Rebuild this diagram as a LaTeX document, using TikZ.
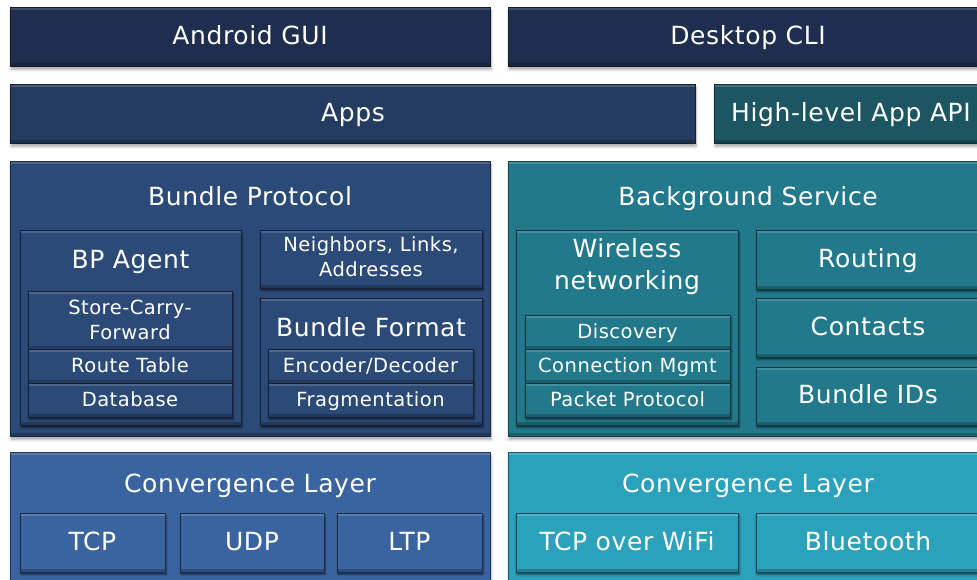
\documentclass[tikz,border=0pt]{standalone}
\usepackage{fontspec}
\setmainfont[LetterSpace=2.5]{DejaVu Sans}
\usetikzlibrary{positioning,shadows.blur}

\definecolor{guiblue}{HTML}{1F2E4E}
\definecolor{appblue}{HTML}{243C60}
\definecolor{apiteal}{HTML}{1C5662}
\definecolor{bpblue}{HTML}{2C4A77}
\definecolor{bgteal}{HTML}{22798B}
\definecolor{clblue}{HTML}{3A64A0}
\definecolor{clcyan}{HTML}{2CA1BB}

\tikzset{
	bevel/.style={path picture={
		\draw[white,opacity=.16,line width=3pt]
			([yshift=-1.5pt]path picture bounding box.north west) -- ([yshift=-1.5pt]path picture bounding box.north east);
		\draw[black,opacity=.22,line width=3pt]
			([yshift=1.5pt]path picture bounding box.south west) -- ([yshift=1.5pt]path picture bounding box.south east);
	}},
	layer/.style={anchor=north west,inner sep=0,outer sep=0,fill=#1,draw=#1!55!black,line width=.8pt,
		bevel,blur shadow={shadow xshift=1pt,shadow yshift=-3.5pt,shadow blur steps=6,shadow blur radius=2.5pt,shadow opacity=35}},
	part/.style={anchor=north west,inner sep=0,outer sep=0,fill=#1,draw=#1!45!black,line width=.8pt,
		bevel,blur shadow={shadow xshift=1pt,shadow yshift=-2.5pt,shadow blur steps=4,shadow blur radius=1.5pt,shadow opacity=55},
		text=white,align=center},
	small/.style={font=\fontsize{19.5}{25}\selectfont},
	big/.style={font=\fontsize{25}{32}\selectfont},
	% one line of text; the smaller text height lifts it a little in its box
	smallline/.style={small,text height=12.5pt,text depth=0pt},
	bigline/.style={big,text height=19pt,text depth=0pt},
	biginner/.style={big,text height=15pt,text depth=0pt},
	title/.style={inner sep=0,text=white,align=center,big},
}

\begin{document}
\begin{tikzpicture}[x=1pt,y=-1pt]
	\useasboundingbox (0,0) rectangle (977,580);

	% user interfaces
	\node[layer=guiblue,minimum width=480pt,minimum height=59pt] (gui) at (10,7) {};
	\node[layer=guiblue,minimum width=480pt,minimum height=59pt] (cli) at (508,7) {};
	\node[title,bigline] (guit) at (250,35.5) {Android GUI};
	\node[title,bigline] (clit) at (748,35.5) {Desktop CLI};

	\node[layer=appblue,minimum width=685pt,minimum height=59pt] (apps) at (10,84) {};
	\node[layer=apiteal,minimum width=274pt,minimum height=59pt] (api) at (714,84) {};
	\node[title,bigline] (appst) at (353,112.5) {Apps};
	\node[title,bigline] (apit) at (851,112.5) {High-level App API};

	% bundle protocol
	\node[layer=bpblue,minimum width=480pt,minimum height=275pt] (bp) at (10,161) {};
	\node[title,bigline] (bpt) at (250,196.5) {Bundle Protocol};

	\node[part=bpblue,minimum width=221pt,minimum height=195pt] (agent) at (20,230) {};
	\node[title,bigline] (agentt) at (130.5,259.5) {BP Agent};
	\node[part=bpblue,small,minimum width=204pt,minimum height=58pt] (scf) at (28,291) {Store-Carry-\\Forward};
	\node[part=bpblue,smallline,minimum width=204pt,minimum height=34pt] (route) at (28,349) {Route Table};
	\node[part=bpblue,smallline,minimum width=204pt,minimum height=34pt] (db) at (28,383) {Database};

	\node[part=bpblue,minimum width=222pt,minimum height=58pt] (nbr) at (260,230) {};
	\node[title,small] (nbrt) at (371,257) {Neighbors, Links,\\Addresses};
	\node[part=bpblue,minimum width=222pt,minimum height=127pt] (fmt) at (260,298) {};
	\node[title,bigline] (fmtt) at (371,326.5) {Bundle Format};
	\node[part=bpblue,smallline,minimum width=205pt,minimum height=34pt] (codec) at (268,349) {Encoder/Decoder};
	\node[part=bpblue,smallline,minimum width=205pt,minimum height=34pt] (frag) at (268,383) {Fragmentation};

	% background service
	\node[layer=bgteal,minimum width=480pt,minimum height=275pt] (bg) at (508,161) {};
	\node[title,bigline] (bgt) at (748,196.5) {Background Service};

	\node[part=bgteal,minimum width=222pt,minimum height=195pt] (wlan) at (516,230) {};
	\node[title] (wlant) at (627,267) {Wireless\\networking};
	\node[part=bgteal,smallline,minimum width=205pt,minimum height=34pt] (disc) at (525,315) {Discovery};
	\node[part=bgteal,smallline,minimum width=205pt,minimum height=34pt] (conn) at (525,349) {Connection Mgmt};
	\node[part=bgteal,smallline,minimum width=205pt,minimum height=34pt] (pkt) at (525,383) {Packet Protocol};

	\node[part=bgteal,biginner,minimum width=224pt,minimum height=59pt] (routing) at (756,230) {Routing};
	\node[part=bgteal,biginner,minimum width=224pt,minimum height=59pt] (contacts) at (756,298) {Contacts};
	\node[part=bgteal,biginner,minimum width=224pt,minimum height=58pt] (bids) at (756,367) {Bundle IDs};

	% convergence layers
	\node[layer=clblue,minimum width=480pt,minimum height=140pt] (cll) at (10,452) {};
	\node[layer=clcyan,minimum width=480pt,minimum height=140pt] (clr) at (508,452) {};
	\node[title,bigline] (cllt) at (250,482.5) {Convergence Layer};
	\node[title,bigline] (clrt) at (748,482.5) {Convergence Layer};

	\node[part=clblue,biginner,minimum width=145pt,minimum height=59pt] (tcp) at (20,513) {TCP};
	\node[part=clblue,biginner,minimum width=144pt,minimum height=59pt] (udp) at (180,513) {UDP};
	\node[part=clblue,biginner,minimum width=145pt,minimum height=59pt] (ltp) at (337,513) {LTP};
	\node[part=clcyan,biginner,minimum width=222pt,minimum height=59pt] (wifi) at (516,513) {TCP over WiFi};
	\node[part=clcyan,biginner,minimum width=224pt,minimum height=59pt] (bt) at (756,513) {Bluetooth};
\end{tikzpicture}
\end{document}
